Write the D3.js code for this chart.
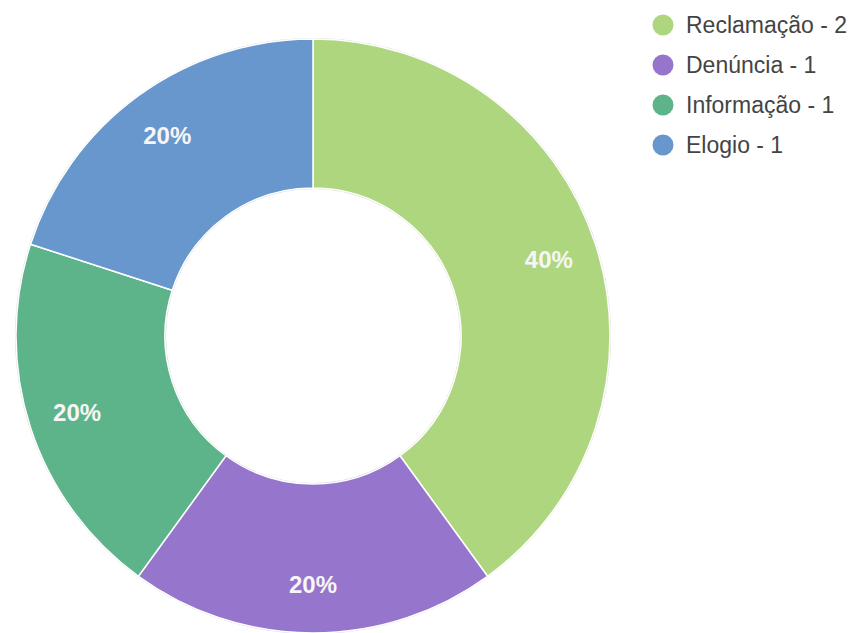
<!DOCTYPE html>
<html>
<head>
<meta charset="utf-8">
<script src="https://cdn.jsdelivr.net/npm/d3@7"></script>
<style>
  body { margin: 0; background: #fff; }
  svg { display: block; font-family: "Liberation Sans", Arial, sans-serif; }
</style>
</head>
<body>
<svg id="chart"></svg>
<script>
// chart data
var categories = ["Reclamação", "Denúncia", "Informação", "Elogio"];
var counts = [2, 1, 1, 1];
var colors = ["#aed67e", "#9675cc", "#5eb48a", "#6797cc"];

var W = 861, H = 633;
var cx = 313, cy = 336, R = 297, r = 148;

var svg = d3.select("#chart").attr("width", W).attr("height", H);

var data = categories.map((c, i) => ({ name: c, value: counts[i], color: colors[i] }));
var total = d3.sum(counts);

var pie = d3.pie().value(d => d.value).sort(null);
var arc = d3.arc().innerRadius(r).outerRadius(R);
var labelArc = d3.arc().innerRadius(248).outerRadius(248);

var g = svg.append("g").attr("transform", `translate(${cx}, ${cy})`);

// faint outline round the ring
g.append("circle").attr("r", R + 0.5).attr("fill", "none").attr("stroke", "#d8d8d8").attr("stroke-width", 1);
g.append("circle").attr("r", r - 0.5).attr("fill", "none").attr("stroke", "#d8d8d8").attr("stroke-width", 1);

g.selectAll(".slice")
  .data(pie(data))
  .join("path")
  .attr("class", "slice")
  .attr("d", arc)
  .attr("fill", d => d.data.color)
  .attr("stroke", "#fff")
  .attr("stroke-width", 1.5);

g.selectAll(".pct")
  .data(pie(data))
  .join("text")
  .attr("class", "pct")
  .attr("transform", d => `translate(${labelArc.centroid(d)})`)
  .attr("dy", "0.36em")
  .style("text-anchor", "middle")
  .style("font-size", "24px")
  .style("font-weight", "bold")
  .style("fill", "#f6f6f6")
  .text(d => Math.round(d.data.value / total * 100) + "%");

// legend
var legend = svg.append("g").attr("transform", "translate(663, 25)");
var item = legend.selectAll(".item")
  .data(data)
  .join("g")
  .attr("class", "item")
  .attr("transform", (d, i) => `translate(0, ${i * 40})`);

item.append("circle").attr("r", 10.5).attr("fill", d => d.color);
item.append("text")
  .attr("x", 23)
  .attr("dy", "0.35em")
  .style("font-size", "23px")
  .style("fill", "#444")
  .text(d => `${d.name} - ${d.value}`);
</script>
</body>
</html>
